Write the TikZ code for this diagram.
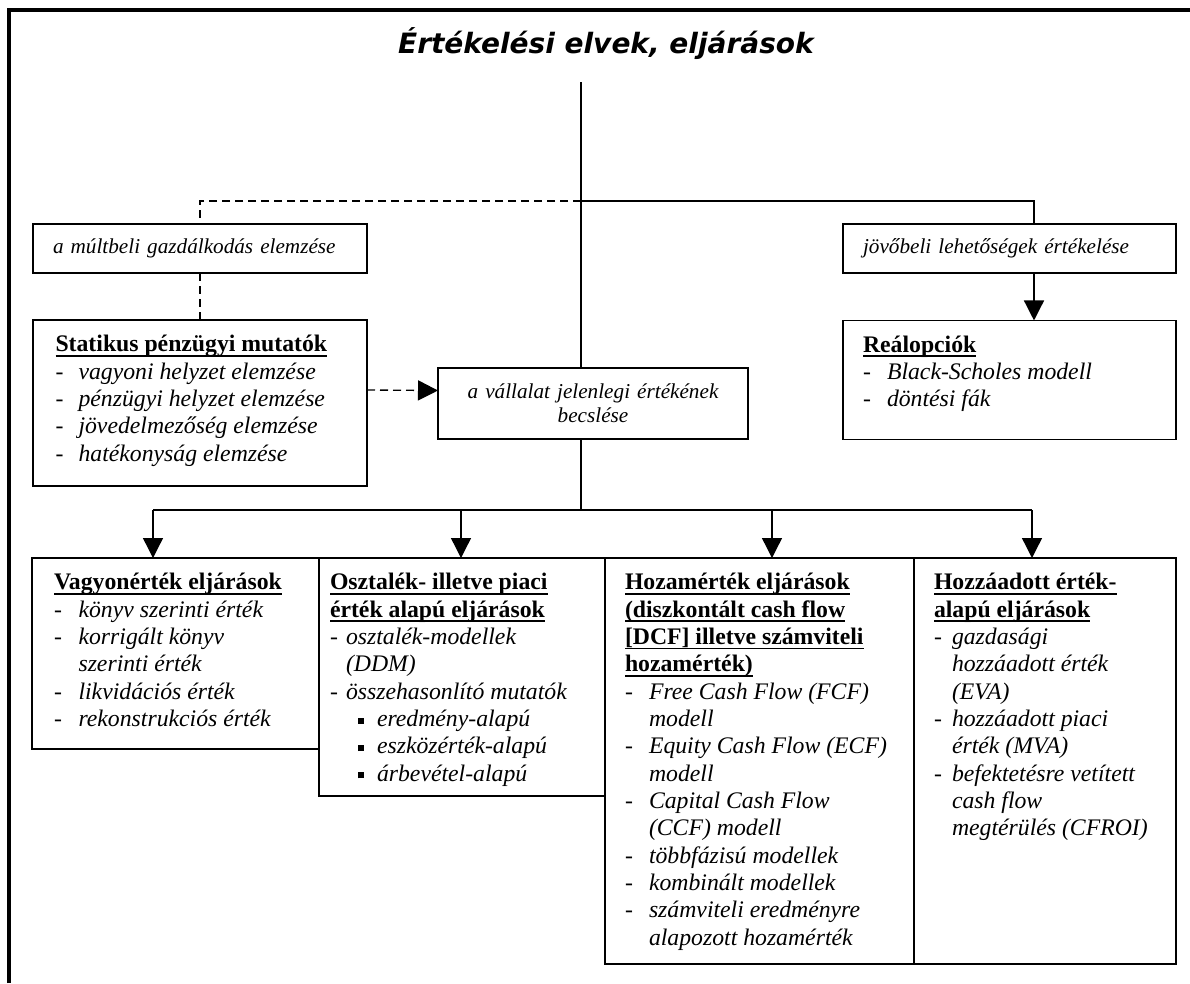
\documentclass[tikz,border=0pt]{standalone}
\usepackage{fontspec}
\setmainfont{Liberation Serif}
\newfontfamily\titlefont{DejaVu Sans}
\usetikzlibrary{positioning,arrows.meta}

\newlength{\itmind}
\newcommand{\hd}[1]{\setbox0\hbox{\bfseries #1}\rlap{\rule[-3.6pt]{\wd0}{1.2pt}}\box0}
\newcommand{\itm}[1]{\par\hangindent=\itmind\hangafter=1\noindent\makebox[\itmind][l]{-}\textit{#1}}
\newcommand{\subitm}[1]{\par\hangindent=35.25pt\hangafter=1\noindent\hspace*{21pt}\makebox[14.25pt][l]{\rule[2pt]{4.5pt}{4.5pt}}\textit{#1}}
% width, height, left pad, item indent, content
\newcommand{\panel}[5]{%
  \hspace*{#3}\parbox[t][#2][t]{\dimexpr#1-#3\relax}{%
    \setlength{\itmind}{#4}\raggedright\rule{0pt}{23.8pt}#5}}

\begin{document}
\begin{tikzpicture}[
      x=0.75pt, y=-0.75pt, line width=1pt,
      >={Triangle[length=15pt,width=15pt]},
      smallbox/.style={draw, line width=1.2pt, outer sep=0pt, inner xsep=15pt, inner ysep=0pt,
        font=\fontsize{15.9}{18}\selectfont\itshape, align=left, anchor=north west},
      bigbox/.style={draw, line width=1.2pt, outer sep=0pt, inner sep=0pt, anchor=north west,
        font=\fontsize{17.8}{20.5}\selectfont},
      dashline/.style={dash pattern=on 6pt off 3.75pt}
      ]
  \useasboundingbox (0,0) rectangle (1190,983);
  \draw[line width=3pt] (9,983) -- (9,10) -- (1190,10);

  \node[anchor=base, font=\titlefont\fontsize{21}{25}\selectfont\bfseries\itshape] (title) at (606,53) {Értékelési elvek, eljárások};

  \node[smallbox, text width=220.5pt, minimum height=36.75pt] (multb) at (33,224) {a múltbeli gazdálkodás elemzése};
  \node[smallbox, text width=219.75pt, minimum height=36.75pt] (jovo) at (843,224) {jövőbeli lehetőségek értékelése};
  \node[smallbox, inner xsep=8pt, text width=216.5pt, minimum height=53.25pt, align=center] (jelen) at (438,368) {a vállalat jelenlegi értékének\\ becslése};

  \node[bigbox, below=35.25pt of multb.south west, anchor=north west] (stat) {\panel{250.5pt}{124.5pt}{16.9pt}{17.25pt}{%
    \hd{Statikus pénzügyi mutatók}
    \itm{vagyoni helyzet elemzése}
    \itm{pénzügyi helyzet elemzése}
    \itm{jövedelmezőség elemzése}
    \itm{hatékonyság elemzése}}};
  \node[bigbox, below=35.6pt of jovo.south west, anchor=north west] (real) {\panel{249.75pt}{89.25pt}{15pt}{18pt}{%
    \hd{Reálopciók}
    \itm{Black-Scholes modell}
    \itm{döntési fák}}};

  \node[bigbox] (b1) at (32,558) {\panel{215.25pt}{143.25pt}{16.5pt}{18.4pt}{%
    \hd{Vagyonérték eljárások}
    \itm{könyv szerinti érték}
    \itm{korrigált könyv\newline szerinti érték}
    \itm{likvidációs érték}
    \itm{rekonstrukciós érték}}};
  \node[bigbox, right=0pt of b1.north east, anchor=north west] (b2) {\panel{214.5pt}{178.5pt}{8.25pt}{12pt}{%
    \hd{Osztalék- illetve piaci}\newline
    \hd{érték alapú eljárások}
    \itm{osztalék-modellek\newline (DDM)}
    \itm{összehasonlító mutatók}
    \subitm{eredmény-alapú}
    \subitm{eszközérték-alapú}
    \subitm{árbevétel-alapú}}};
  \node[bigbox, right=0pt of b2.north east, anchor=north west] (b3) {\panel{231.75pt}{304.5pt}{15pt}{18pt}{%
    \hd{Hozamérték eljárások}\newline
    \hd{(diszkontált cash flow}\newline
    \hd{[DCF] illetve számviteli}\newline
    \hd{hozamérték)}
    \itm{Free Cash Flow (FCF)\newline modell}
    \itm{Equity Cash Flow (ECF)\newline modell}
    \itm{Capital Cash Flow\newline (CCF) modell}
    \itm{többfázisú modellek}
    \itm{kombinált modellek}
    \itm{számviteli eredményre\newline alapozott hozamérték}}};
  \node[bigbox, right=0pt of b3.north east, anchor=north west] (b4) {\panel{196.5pt}{304.5pt}{15pt}{13.5pt}{%
    \hd{Hozzáadott érték-}\newline
    \hd{alapú eljárások}
    \itm{gazdasági\newline hozzáadott érték\newline (EVA)}
    \itm{hozzáadott piaci\newline érték (MVA)}
    \itm{befektetésre vetített\newline cash flow\newline megtérülés (CFROI)}}};

  % Connect the nodes
  \coordinate (top) at (581,82);
  \coordinate (fork) at (581,201);
  \coordinate (jv) at (1034,201);
  \coordinate (bus) at (581,510);
  \coordinate (a1) at (153,510);
  \coordinate (a2) at (461,510);
  \coordinate (a3) at (772,510);
  \coordinate (a4) at (1032,510);

  \draw (top) -- (top |- jelen.north);
  \draw[dashline] (fork) -| (multb.north);
  \draw[dashline] (multb.south) -- (stat.north);
  \draw (fork) -- (jv) -- (jv |- jovo.north);
  \draw[->] (jv |- jovo.south) -- (jv |- real.north);
  \draw[dashline,->] ([yshift=9.75pt]stat.east) -- ([yshift=9.75pt]jelen.west);
  \draw (top |- jelen.south) -- (bus);
  \draw (a1) -- (a4);
  \foreach \i in {1,...,4}
    \draw[->] (a\i) -- (a\i |- b\i.north);
\end{tikzpicture}
\end{document}
